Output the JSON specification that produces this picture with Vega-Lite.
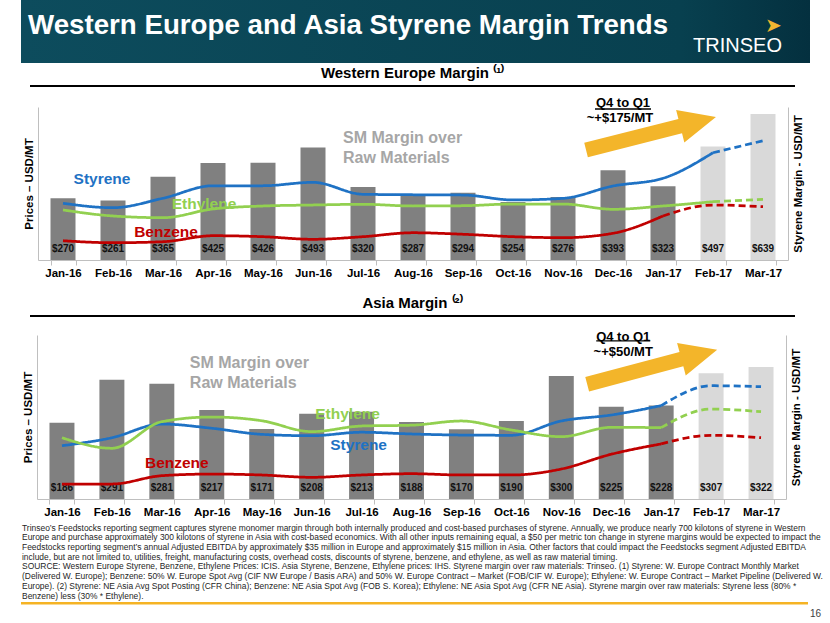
{
"$schema":"https://vega.github.io/schema/vega-lite/v6.json",
"background":"#ffffff",
"padding":{"left":21,"top":0,"right":0,"bottom":0},
"bounds":"flush",
"spacing":0,
"config":{"view":{"stroke":null},"font":"Arial, Liberation Sans, sans-serif"},
"datasets":{
"margins":[
{"region":"WE","month":"Jan-16","margin":270,"status":"actual"},
{"region":"WE","month":"Feb-16","margin":261,"status":"actual"},
{"region":"WE","month":"Mar-16","margin":365,"status":"actual"},
{"region":"WE","month":"Apr-16","margin":425,"status":"actual"},
{"region":"WE","month":"May-16","margin":426,"status":"actual"},
{"region":"WE","month":"Jun-16","margin":493,"status":"actual"},
{"region":"WE","month":"Jul-16","margin":320,"status":"actual"},
{"region":"WE","month":"Aug-16","margin":287,"status":"actual"},
{"region":"WE","month":"Sep-16","margin":294,"status":"actual"},
{"region":"WE","month":"Oct-16","margin":254,"status":"actual"},
{"region":"WE","month":"Nov-16","margin":276,"status":"actual"},
{"region":"WE","month":"Dec-16","margin":393,"status":"actual"},
{"region":"WE","month":"Jan-17","margin":323,"status":"actual"},
{"region":"WE","month":"Feb-17","margin":497,"status":"estimate"},
{"region":"WE","month":"Mar-17","margin":639,"status":"estimate"},
{"region":"Asia","month":"Jan-16","margin":186,"status":"actual"},
{"region":"Asia","month":"Feb-16","margin":291,"status":"actual"},
{"region":"Asia","month":"Mar-16","margin":281,"status":"actual"},
{"region":"Asia","month":"Apr-16","margin":217,"status":"actual"},
{"region":"Asia","month":"May-16","margin":171,"status":"actual"},
{"region":"Asia","month":"Jun-16","margin":208,"status":"actual"},
{"region":"Asia","month":"Jul-16","margin":213,"status":"actual"},
{"region":"Asia","month":"Aug-16","margin":188,"status":"actual"},
{"region":"Asia","month":"Sep-16","margin":170,"status":"actual"},
{"region":"Asia","month":"Oct-16","margin":190,"status":"actual"},
{"region":"Asia","month":"Nov-16","margin":300,"status":"actual"},
{"region":"Asia","month":"Dec-16","margin":225,"status":"actual"},
{"region":"Asia","month":"Jan-17","margin":228,"status":"actual"},
{"region":"Asia","month":"Feb-17","margin":307,"status":"estimate"},
{"region":"Asia","month":"Mar-17","margin":322,"status":"estimate"}
],
"prices":[
{"region":"WE","series":"Styrene","month":"Jan-16","price":630,"part":"actual"},
{"region":"WE","series":"Styrene","month":"Feb-16","price":581,"part":"actual"},
{"region":"WE","series":"Styrene","month":"Mar-16","price":686,"part":"actual"},
{"region":"WE","series":"Styrene","month":"Apr-16","price":825,"part":"actual"},
{"region":"WE","series":"Styrene","month":"May-16","price":825,"part":"actual"},
{"region":"WE","series":"Styrene","month":"Jun-16","price":863,"part":"actual"},
{"region":"WE","series":"Styrene","month":"Jul-16","price":730,"part":"actual"},
{"region":"WE","series":"Styrene","month":"Aug-16","price":725,"part":"actual"},
{"region":"WE","series":"Styrene","month":"Sep-16","price":722,"part":"actual"},
{"region":"WE","series":"Styrene","month":"Oct-16","price":667,"part":"actual"},
{"region":"WE","series":"Styrene","month":"Nov-16","price":685,"part":"actual"},
{"region":"WE","series":"Styrene","month":"Dec-16","price":822,"part":"actual"},
{"region":"WE","series":"Styrene","month":"Jan-17","price":908,"part":"actual"},
{"region":"WE","series":"Styrene","month":"Feb-17","price":1192,"part":"actual"},
{"region":"WE","series":"Styrene","month":"Feb-17","price":1192,"part":"estimate"},
{"region":"WE","series":"Styrene","month":"Mar-17","price":1325,"part":"estimate"},
{"region":"WE","series":"Ethylene","month":"Jan-16","price":556,"part":"actual"},
{"region":"WE","series":"Ethylene","month":"Feb-16","price":489,"part":"actual"},
{"region":"WE","series":"Ethylene","month":"Mar-16","price":470,"part":"actual"},
{"region":"WE","series":"Ethylene","month":"Apr-16","price":567,"part":"actual"},
{"region":"WE","series":"Ethylene","month":"May-16","price":600,"part":"actual"},
{"region":"WE","series":"Ethylene","month":"Jun-16","price":611,"part":"actual"},
{"region":"WE","series":"Ethylene","month":"Jul-16","price":619,"part":"actual"},
{"region":"WE","series":"Ethylene","month":"Aug-16","price":600,"part":"actual"},
{"region":"WE","series":"Ethylene","month":"Sep-16","price":603,"part":"actual"},
{"region":"WE","series":"Ethylene","month":"Oct-16","price":622,"part":"actual"},
{"region":"WE","series":"Ethylene","month":"Nov-16","price":622,"part":"actual"},
{"region":"WE","series":"Ethylene","month":"Dec-16","price":563,"part":"actual"},
{"region":"WE","series":"Ethylene","month":"Jan-17","price":600,"part":"actual"},
{"region":"WE","series":"Ethylene","month":"Feb-17","price":648,"part":"actual"},
{"region":"WE","series":"Ethylene","month":"Feb-17","price":648,"part":"estimate"},
{"region":"WE","series":"Ethylene","month":"Mar-17","price":674,"part":"estimate"},
{"region":"WE","series":"Benzene","month":"Jan-16","price":214,"part":"actual"},
{"region":"WE","series":"Benzene","month":"Feb-16","price":192,"part":"actual"},
{"region":"WE","series":"Benzene","month":"Mar-16","price":203,"part":"actual"},
{"region":"WE","series":"Benzene","month":"Apr-16","price":270,"part":"actual"},
{"region":"WE","series":"Benzene","month":"May-16","price":259,"part":"actual"},
{"region":"WE","series":"Benzene","month":"Jun-16","price":230,"part":"actual"},
{"region":"WE","series":"Benzene","month":"Jul-16","price":259,"part":"actual"},
{"region":"WE","series":"Benzene","month":"Aug-16","price":303,"part":"actual"},
{"region":"WE","series":"Benzene","month":"Sep-16","price":286,"part":"actual"},
{"region":"WE","series":"Benzene","month":"Oct-16","price":259,"part":"actual"},
{"region":"WE","series":"Benzene","month":"Nov-16","price":248,"part":"actual"},
{"region":"WE","series":"Benzene","month":"Dec-16","price":297,"part":"actual"},
{"region":"WE","series":"Benzene","month":"Jan-17","price":489,"part":"actual"},
{"region":"WE","series":"Benzene","month":"Jan-17","price":489,"part":"estimate"},
{"region":"WE","series":"Benzene","month":"Feb-17","price":611,"part":"estimate"},
{"region":"WE","series":"Benzene","month":"Mar-17","price":592,"part":"estimate"},
{"region":"Asia","series":"Styrene","month":"Jan-16","price":455,"part":"actual"},
{"region":"Asia","series":"Styrene","month":"Feb-16","price":523,"part":"actual"},
{"region":"Asia","series":"Styrene","month":"Mar-16","price":640,"part":"actual"},
{"region":"Asia","series":"Styrene","month":"Apr-16","price":604,"part":"actual"},
{"region":"Asia","series":"Styrene","month":"May-16","price":552,"part":"actual"},
{"region":"Asia","series":"Styrene","month":"Jun-16","price":540,"part":"actual"},
{"region":"Asia","series":"Styrene","month":"Jul-16","price":570,"part":"actual"},
{"region":"Asia","series":"Styrene","month":"Aug-16","price":555,"part":"actual"},
{"region":"Asia","series":"Styrene","month":"Sep-16","price":546,"part":"actual"},
{"region":"Asia","series":"Styrene","month":"Oct-16","price":544,"part":"actual"},
{"region":"Asia","series":"Styrene","month":"Nov-16","price":666,"part":"actual"},
{"region":"Asia","series":"Styrene","month":"Dec-16","price":717,"part":"actual"},
{"region":"Asia","series":"Styrene","month":"Jan-17","price":797,"part":"actual"},
{"region":"Asia","series":"Styrene","month":"Jan-17","price":797,"part":"estimate"},
{"region":"Asia","series":"Styrene","month":"Feb-17","price":967,"part":"estimate"},
{"region":"Asia","series":"Styrene","month":"Mar-17","price":959,"part":"estimate"},
{"region":"Asia","series":"Ethylene","month":"Jan-16","price":523,"part":"actual"},
{"region":"Asia","series":"Ethylene","month":"Feb-16","price":433,"part":"actual"},
{"region":"Asia","series":"Ethylene","month":"Mar-16","price":660,"part":"actual"},
{"region":"Asia","series":"Ethylene","month":"Apr-16","price":700,"part":"actual"},
{"region":"Asia","series":"Ethylene","month":"May-16","price":668,"part":"actual"},
{"region":"Asia","series":"Ethylene","month":"Jun-16","price":575,"part":"actual"},
{"region":"Asia","series":"Ethylene","month":"Jul-16","price":623,"part":"actual"},
{"region":"Asia","series":"Ethylene","month":"Aug-16","price":630,"part":"actual"},
{"region":"Asia","series":"Ethylene","month":"Sep-16","price":666,"part":"actual"},
{"region":"Asia","series":"Ethylene","month":"Oct-16","price":589,"part":"actual"},
{"region":"Asia","series":"Ethylene","month":"Nov-16","price":532,"part":"actual"},
{"region":"Asia","series":"Ethylene","month":"Dec-16","price":612,"part":"actual"},
{"region":"Asia","series":"Ethylene","month":"Jan-17","price":609,"part":"actual"},
{"region":"Asia","series":"Ethylene","month":"Jan-17","price":609,"part":"estimate"},
{"region":"Asia","series":"Ethylene","month":"Feb-17","price":768,"part":"estimate"},
{"region":"Asia","series":"Ethylene","month":"Mar-17","price":745,"part":"estimate"},
{"region":"Asia","series":"Benzene","month":"Jan-16","price":128,"part":"actual"},
{"region":"Asia","series":"Benzene","month":"Feb-16","price":128,"part":"actual"},
{"region":"Asia","series":"Benzene","month":"Mar-16","price":199,"part":"actual"},
{"region":"Asia","series":"Benzene","month":"Apr-16","price":213,"part":"actual"},
{"region":"Asia","series":"Benzene","month":"May-16","price":205,"part":"actual"},
{"region":"Asia","series":"Benzene","month":"Jun-16","price":185,"part":"actual"},
{"region":"Asia","series":"Benzene","month":"Jul-16","price":205,"part":"actual"},
{"region":"Asia","series":"Benzene","month":"Aug-16","price":216,"part":"actual"},
{"region":"Asia","series":"Benzene","month":"Sep-16","price":205,"part":"actual"},
{"region":"Asia","series":"Benzene","month":"Oct-16","price":205,"part":"actual"},
{"region":"Asia","series":"Benzene","month":"Nov-16","price":256,"part":"actual"},
{"region":"Asia","series":"Benzene","month":"Dec-16","price":382,"part":"actual"},
{"region":"Asia","series":"Benzene","month":"Jan-17","price":470,"part":"actual"},
{"region":"Asia","series":"Benzene","month":"Jan-17","price":470,"part":"estimate"},
{"region":"Asia","series":"Benzene","month":"Feb-17","price":544,"part":"estimate"},
{"region":"Asia","series":"Benzene","month":"Mar-17","price":523,"part":"estimate"}
]
},
"vconcat":[
{"hconcat":[
 {"width":660,"height":63,"data":{"values":[]},"mark":"point",
  "view":{"stroke":null,"fill":{"gradient":"linear","x1":0,"y1":0,"x2":1,"y2":0,"stops":[{"offset":0,"color":"#0d4c5d"},{"offset":1,"color":"#08404f"}]}},
  "title":{"text":"Western Europe and Asia Styrene Margin Trends","anchor":"start","frame":"group","orient":"top","offset":-40,"dx":7,"fontSize":27.7,"fontWeight":"bold","color":"#ffffff"}},
 {"width":129,"height":63,"data":{"values":[]},"mark":"point",
  "view":{"stroke":null,"fill":{"gradient":"linear","x1":0,"y1":0,"x2":1,"y2":0,"stops":[{"offset":0,"color":"#08404f"},{"offset":1,"color":"#04303f"}]}},
  "title":{"text":"➤","subtitle":"TRINSEO","anchor":"end","frame":"group","orient":"top","offset":-56,"dx":-28,"fontSize":20,"fontWeight":"normal","color":"#f1b531","subtitleFontSize":20,"subtitleColor":"#ffffff","subtitlePadding":0}}
 ],"spacing":0,"bounds":"flush"},
{"width":10,"height":85,"data":{"values":[]},"mark":"point"},
{"hconcat":[
 {"width":9,"height":2,"data":{"values":[]},"mark":"point"},
 {"width":765,"height":2,"data":{"values":[]},"mark":"point","view":{"stroke":null,"fill":"#000000"},
  "title":{"text":"Western Europe Margin ⁽¹⁾","anchor":"middle","frame":"group","orient":"top","offset":4,"fontSize":15,"fontWeight":"bold","color":"#000000"}}
 ],"spacing":0,"bounds":"flush"},
{"width":10,"height":22,"data":{"values":[]},"mark":"point"},
{"hconcat":[
 {"width":17,"height":153,"data":{"values":[]},"mark":"point"},
 {"width":750,"height":153,
  "layer":[
   {"data":{"name":"margins"},"transform":[{"filter":"datum.region === 'WE'"}],
    "layer":[
     {"mark":{"type":"bar"},
      "encoding":{
       "x":{"field":"month","type":"nominal","sort":null,"scale":{"type":"band","domain":["Jan-16","Feb-16","Mar-16","Apr-16","May-16","Jun-16","Jul-16","Aug-16","Sep-16","Oct-16","Nov-16","Dec-16","Jan-17","Feb-17","Mar-17"],"paddingInner":0.5,"paddingOuter":0.25},
        "axis":{"title":null,"labelAngle":0,"labelFontSize":11.5,"labelFontWeight":"bold","labelColor":"#000000","tickBand":"extent","tickColor":"#bfbfbf","tickSize":5,"domainColor":"#bfbfbf","labelPadding":2,"grid":false}},
       "y":{"field":"margin","type":"quantitative","scale":{"domain":[0,670],"nice":false},
        "axis":{"orient":"right","title":"Styrene Margin - USD/MT","labels":false,"ticks":false,"grid":false,"domainColor":"#bfbfbf","titleAngle":270,"titleBaseline":"top","titlePadding":4,"titleFontSize":11.5,"titleFontWeight":"bold","titleColor":"#000000"}},
       "color":{"field":"status","type":"nominal","scale":{"domain":["actual","estimate"],"range":["#808080","#d9d9d9"]},"legend":null}}},
     {"mark":{"type":"text","fontSize":10,"fontWeight":"bold","color":"#111111","baseline":"middle","dy":-11},
      "encoding":{
       "x":{"field":"month","type":"nominal"},
       "y":{"datum":0,"type":"quantitative"},
       "text":{"field":"margin","type":"quantitative","format":"$d"}}}
    ]},
   {"data":{"name":"prices"},"transform":[{"filter":"datum.region === 'WE'"}],
    "layer":[
     {"mark":{"type":"line","strokeWidth":2.75,"interpolate":"monotone"},
      "encoding":{
       "x":{"field":"month","type":"nominal","sort":["Jan-16","Feb-16","Mar-16","Apr-16","May-16","Jun-16","Jul-16","Aug-16","Sep-16","Oct-16","Nov-16","Dec-16","Jan-17","Feb-17","Mar-17"],"bandPosition":0.5},
       "y":{"field":"price","type":"quantitative","scale":{"domain":[0,1700],"nice":false},
        "axis":{"orient":"left","title":"Prices – USD/MT","labels":false,"ticks":false,"grid":false,"domainColor":"#bfbfbf","titlePadding":4,"titleFontSize":11.5,"titleFontWeight":"bold","titleColor":"#000000"}},
       "color":{"field":"series","type":"nominal","scale":{"domain":["Styrene","Ethylene","Benzene"],"range":["#1f72c4","#92d050","#c00000"]},"legend":null},
       "strokeDash":{"field":"part","type":"nominal","scale":{"domain":["actual","estimate"],"range":[[1,0],[7,4]]},"legend":null}}},
     {"data":{"values":[{}]},"mark":{"type":"text","text":"Styrene","color":"#1f72c4","fontSize":15.5,"fontWeight":"bold","baseline":"middle","xOffset":-11},
      "encoding":{"x":{"datum":"Feb-16","type":"nominal","bandPosition":0.5},"y":{"datum":900,"type":"quantitative"}}},
     {"data":{"values":[{}]},"mark":{"type":"text","text":"Ethylene","color":"#92d050","fontSize":15.5,"fontWeight":"bold","baseline":"middle","xOffset":-9},
      "encoding":{"x":{"datum":"Apr-16","type":"nominal","bandPosition":0.5},"y":{"datum":622,"type":"quantitative"}}},
     {"data":{"values":[{}]},"mark":{"type":"text","text":"Benzene","color":"#c00000","fontSize":15.5,"fontWeight":"bold","baseline":"middle","xOffset":3},
      "encoding":{"x":{"datum":"Mar-16","type":"nominal","bandPosition":0.5},"y":{"datum":311,"type":"quantitative"}}},
     {"data":{"values":[{}]},"mark":{"type":"text","text":["SM Margin over","Raw Materials"],"color":"#a6a6a6","fontSize":16,"fontWeight":"bold","align":"left","baseline":"middle","lineHeight":20,"xOffset":30},
      "encoding":{"x":{"datum":"Jun-16","type":"nominal","bandPosition":0.5},"y":{"datum":1356,"type":"quantitative"}}},
     {"data":{"values":[{}]},"mark":{"type":"point","shape":"M -1 -0.11 L 0.45 -0.11 L 0.45 -0.25 L 1 0 L 0.45 0.25 L 0.45 0.11 L -1 0.11 Z","size":17956,"angle":345.8,"filled":true,"color":"#f3b52a","opacity":1,"strokeWidth":0,"xOffset":-12},
      "encoding":{"x":{"datum":"Jan-17","type":"nominal","bandPosition":0.5},"y":{"datum":1405,"type":"quantitative"}}},
     {"data":{"values":[{}]},"mark":{"type":"text","text":"Q4 to Q1","color":"#000000","fontSize":13,"fontWeight":"bold","baseline":"middle","xOffset":10},
      "encoding":{"x":{"datum":"Dec-16","type":"nominal","bandPosition":0.5},"y":{"datum":1744,"type":"quantitative"}}},
     {"data":{"values":[{}]},"mark":{"type":"tick","orient":"horizontal","size":56,"thickness":1.3,"color":"#000000","opacity":1,"xOffset":10},
      "encoding":{"x":{"datum":"Dec-16","type":"nominal","bandPosition":0.5},"y":{"datum":1678,"type":"quantitative"}}},
     {"data":{"values":[{}]},"mark":{"type":"text","text":"~+$175/MT","color":"#000000","fontSize":13,"fontWeight":"bold","baseline":"middle","xOffset":7},
      "encoding":{"x":{"datum":"Dec-16","type":"nominal","bandPosition":0.5},"y":{"datum":1578,"type":"quantitative"}}}
    ]}
  ],
  "resolve":{"scale":{"y":"independent","color":"independent"}}}
 ],"spacing":0,"bounds":"flush"},
{"width":10,"height":208,"data":{"values":[]},"mark":"point"},
{"hconcat":[
 {"width":9,"height":2,"data":{"values":[]},"mark":"point"},
 {"width":765,"height":2,"data":{"values":[]},"mark":"point","view":{"stroke":null,"fill":"#000000"},
  "title":{"text":"Asia Margin ⁽²⁾","anchor":"middle","frame":"group","orient":"top","offset":4,"fontSize":15,"fontWeight":"bold","color":"#000000"}}
 ],"spacing":0,"bounds":"flush"},
{"width":10,"height":20,"data":{"values":[]},"mark":"point"},
{"hconcat":[
 {"width":16,"height":164,"data":{"values":[]},"mark":"point"},
 {"width":749,"height":164,
  "layer":[
   {"data":{"name":"margins"},"transform":[{"filter":"datum.region === 'Asia'"}],
    "layer":[
     {"mark":{"type":"bar"},
      "encoding":{
       "x":{"field":"month","type":"nominal","sort":null,"scale":{"type":"band","domain":["Jan-16","Feb-16","Mar-16","Apr-16","May-16","Jun-16","Jul-16","Aug-16","Sep-16","Oct-16","Nov-16","Dec-16","Jan-17","Feb-17","Mar-17"],"paddingInner":0.5,"paddingOuter":0.25},
        "axis":{"title":null,"labelAngle":0,"labelFontSize":11.5,"labelFontWeight":"bold","labelColor":"#000000","tickBand":"extent","tickColor":"#bfbfbf","tickSize":5,"domainColor":"#bfbfbf","labelPadding":2,"grid":false}},
       "y":{"field":"margin","type":"quantitative","scale":{"domain":[0,400],"nice":false},
        "axis":{"orient":"right","title":"Styrene Margin - USD/MT","labels":false,"ticks":false,"grid":false,"domainColor":"#bfbfbf","titleAngle":270,"titleBaseline":"top","titlePadding":4,"titleFontSize":11.5,"titleFontWeight":"bold","titleColor":"#000000"}},
       "color":{"field":"status","type":"nominal","scale":{"domain":["actual","estimate"],"range":["#808080","#d9d9d9"]},"legend":null}}},
     {"mark":{"type":"text","fontSize":10,"fontWeight":"bold","color":"#111111","baseline":"middle","dy":-11},
      "encoding":{
       "x":{"field":"month","type":"nominal"},
       "y":{"datum":0,"type":"quantitative"},
       "text":{"field":"margin","type":"quantitative","format":"$d"}}}
    ]},
   {"data":{"name":"prices"},"transform":[{"filter":"datum.region === 'Asia'"}],
    "layer":[
     {"mark":{"type":"line","strokeWidth":2.75,"interpolate":"monotone"},
      "encoding":{
       "x":{"field":"month","type":"nominal","sort":["Jan-16","Feb-16","Mar-16","Apr-16","May-16","Jun-16","Jul-16","Aug-16","Sep-16","Oct-16","Nov-16","Dec-16","Jan-17","Feb-17","Mar-17"],"bandPosition":0.5},
       "y":{"field":"price","type":"quantitative","scale":{"domain":[0,1400],"nice":false},
        "axis":{"orient":"left","title":"Prices – USD/MT","labels":false,"ticks":false,"grid":false,"domainColor":"#bfbfbf","titlePadding":4,"titleFontSize":11.5,"titleFontWeight":"bold","titleColor":"#000000"}},
       "color":{"field":"series","type":"nominal","scale":{"domain":["Styrene","Ethylene","Benzene"],"range":["#1f72c4","#92d050","#c00000"]},"legend":null},
       "strokeDash":{"field":"part","type":"nominal","scale":{"domain":["actual","estimate"],"range":[[1,0],[7,4]]},"legend":null}}},
     {"data":{"values":[{}]},"mark":{"type":"text","text":"Ethylene","color":"#92d050","fontSize":15.5,"fontWeight":"bold","baseline":"middle","xOffset":-14},
      "encoding":{"x":{"datum":"Jul-16","type":"nominal","bandPosition":0.5},"y":{"datum":726,"type":"quantitative"}}},
     {"data":{"values":[{}]},"mark":{"type":"text","text":"Styrene","color":"#1f72c4","fontSize":15.5,"fontWeight":"bold","baseline":"middle","xOffset":-3},
      "encoding":{"x":{"datum":"Jul-16","type":"nominal","bandPosition":0.5},"y":{"datum":461,"type":"quantitative"}}},
     {"data":{"values":[{}]},"mark":{"type":"text","text":"Benzene","color":"#c00000","fontSize":15.5,"fontWeight":"bold","baseline":"middle","xOffset":15},
      "encoding":{"x":{"datum":"Mar-16","type":"nominal","bandPosition":0.5},"y":{"datum":307,"type":"quantitative"}}},
     {"data":{"values":[{}]},"mark":{"type":"text","text":["SM Margin over","Raw Materials"],"color":"#a6a6a6","fontSize":16,"fontWeight":"bold","align":"left","baseline":"middle","lineHeight":20,"xOffset":28},
      "encoding":{"x":{"datum":"Mar-16","type":"nominal","bandPosition":0.5},"y":{"datum":1161,"type":"quantitative"}}},
     {"data":{"values":[{}]},"mark":{"type":"point","shape":"M -1 -0.11 L 0.45 -0.11 L 0.45 -0.25 L 1 0 L 0.45 0.25 L 0.45 0.11 L -1 0.11 Z","size":18090,"angle":345.1,"filled":true,"color":"#f3b52a","opacity":1,"strokeWidth":0,"xOffset":-9},
      "encoding":{"x":{"datum":"Jan-17","type":"nominal","bandPosition":0.5},"y":{"datum":1127,"type":"quantitative"}}},
     {"data":{"values":[{}]},"mark":{"type":"text","text":"Q4 to Q1","color":"#000000","fontSize":13,"fontWeight":"bold","baseline":"middle","xOffset":12},
      "encoding":{"x":{"datum":"Dec-16","type":"nominal","bandPosition":0.5},"y":{"datum":1383,"type":"quantitative"}}},
     {"data":{"values":[{}]},"mark":{"type":"tick","orient":"horizontal","size":54,"thickness":1.3,"color":"#000000","opacity":1,"xOffset":12},
      "encoding":{"x":{"datum":"Dec-16","type":"nominal","bandPosition":0.5},"y":{"datum":1349,"type":"quantitative"}}},
     {"data":{"values":[{}]},"mark":{"type":"text","text":"~+$50/MT","color":"#000000","fontSize":13,"fontWeight":"bold","baseline":"middle","xOffset":12},
      "encoding":{"x":{"datum":"Dec-16","type":"nominal","bandPosition":0.5},"y":{"datum":1255,"type":"quantitative"}}}
    ]}
  ],
  "resolve":{"scale":{"y":"independent","color":"independent"}}}
 ],"spacing":0,"bounds":"flush"},
{"width":10,"height":267,"data":{"values":[]},"mark":"point"},
{"width":787,"height":2.5,"data":{"values":[]},"mark":"point","view":{"stroke":null,"fill":"#f5b324"},
 "title":{"text":["Trinseo’s Feedstocks reporting segment captures styrene monomer margin through both internally produced and cost-based purchases of styrene.  Annually, we produce nearly 700 kilotons of styrene in Western","Europe and purchase approximately 300 kilotons of styrene in Asia with cost-based economics. With all other inputs remaining equal, a $50 per metric ton change in styrene margins would be expected to impact the","Feedstocks reporting segment’s annual Adjusted EBITDA by approximately $35 million in Europe and approximately $15 million in Asia.  Other factors that could impact the Feedstocks segment Adjusted EBITDA","include, but are not limited to, utilities, freight, manufacturing costs, overhead costs, discounts of styrene, benzene, and ethylene, as well as raw material timing.","SOURCE:  Western Europe Styrene, Benzene, Ethylene Prices: ICIS.  Asia Styrene, Benzene, Ethylene prices: IHS.  Styrene margin over raw materials: Trinseo.  (1) Styrene:  W. Europe Contract Monthly Market","(Delivered W. Europe); Benzene: 50% W. Europe Spot Avg (CIF NW Europe / Basis ARA) and 50% W. Europe Contract – Market (FOB/CIF W. Europe); Ethylene:  W. Europe Contract – Market Pipeline  (Delivered W.","Europe).  (2) Styrene: NE Asia Avg Spot Posting (CFR China); Benzene: NE Asia Spot Avg (FOB S. Korea); Ethylene: NE Asia Spot Avg (CFR NE Asia).  Styrene margin over raw materials: Styrene less (80% *","Benzene) less (30% * Ethylene)."],
  "anchor":"start","frame":"group","orient":"top","offset":2,"dx":1,"fontSize":8.45,"fontWeight":"normal","lineHeight":9.7,"color":"#262626","font":"Liberation Sans Narrow, Arial Narrow, sans-serif"}},
{"width":800,"height":18,"data":{"values":[]},"mark":"point",
 "title":{"text":"16","anchor":"end","frame":"group","orient":"top","offset":-14,"fontSize":10,"fontWeight":"normal","color":"#404040"}}
]
}
